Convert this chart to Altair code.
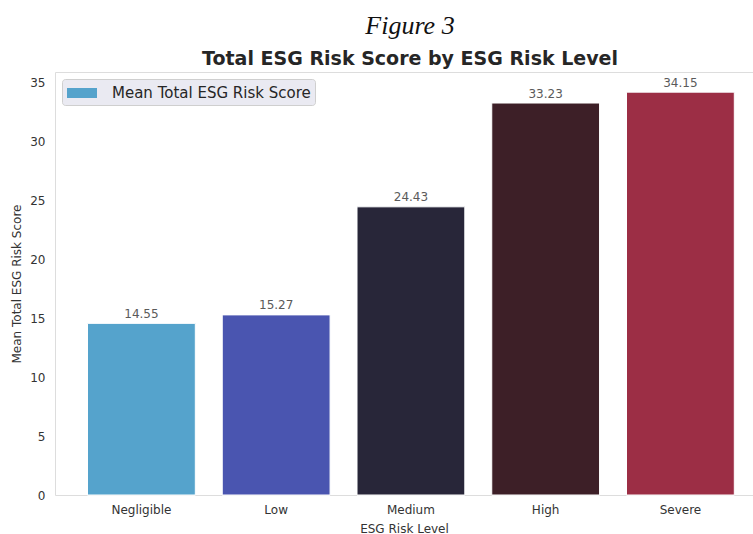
import altair as alt
import pandas as pd

# Mean total ESG risk score per risk level
levels = ["Negligible", "Low", "Medium", "High", "Severe"]
mean_scores = [14.55, 15.27, 24.43, 33.23, 34.15]
series_name = "Mean Total ESG Risk Score"
y_ticks = [0, 5, 10, 15, 20, 25, 30, 35]

palette = ["#55a3cc", "#4a55b0", "#282639", "#3d1f27", "#9c2e45"]

df = pd.DataFrame({"level": levels, "score": mean_scores})
df["series"] = series_name

FONT = "DejaVu Sans"

x_enc = alt.X(
    "level:N",
    sort=levels,
    scale=alt.Scale(paddingInner=0.2, paddingOuter=0.19, align=0.635),
    axis=alt.Axis(
        title="ESG Risk Level",
        labelAngle=0,
        labelFontSize=12,
        labelColor="#333333",
        labelPadding=9,
        titleFontSize=12,
        titleFontWeight="normal",
        titleColor="#333333",
        titlePadding=8,
        ticks=False,
        domain=False,
        grid=False,
    ),
)
y_enc = alt.Y(
    "score:Q",
    scale=alt.Scale(domain=[0, 35.86], nice=False),
    axis=alt.Axis(
        title="Mean Total ESG Risk Score",
        values=y_ticks,
        labelFontSize=12,
        labelColor="#333333",
        labelPadding=10,
        titleFontSize=12,
        titleFontWeight="normal",
        titleColor="#333333",
        titlePadding=6,
        ticks=False,
        domain=False,
        grid=False,
    ),
)

base = alt.Chart(df)

# Layer that only supplies the legend entry (hidden under the coloured bars)
legend_bars = base.mark_bar(stroke="white", strokeWidth=1).encode(
    x=x_enc,
    y=y_enc,
    fill=alt.Fill(
        "series:N",
        scale=alt.Scale(domain=[series_name], range=[palette[0]]),
        legend=alt.Legend(
            title=None,
            orient="top-left",
            offset=7,
            symbolType="M-1.5,-0.5H1.5V0.5H-1.5Z",
            symbolSize=400,
            symbolStrokeWidth=0,
            symbolOffset=6,
            labelFontSize=15,
            labelColor="#262626",
            labelFont=FONT,
            labelOffset=20,
            labelLimit=0,
            fillColor="#EAEAF2",
            strokeColor="#cfcfcf",
            cornerRadius=3,
            padding=4,
        ),
    ),
)

bars = base.mark_bar(stroke="white", strokeWidth=1).encode(
    x=x_enc,
    y=y_enc,
    color=alt.Color("level:N", scale=alt.Scale(domain=levels, range=palette), legend=None),
)

labels = base.mark_text(
    baseline="alphabetic", dy=-5.5, fontSize=12, color="#5a5a5a", font=FONT
).encode(
    x=x_enc,
    y=y_enc,
    text=alt.Text("score:Q", format=".2f"),
)

chart = (
    alt.layer(legend_bars, bars, labels)
    .properties(
        width=698,
        height=423,
        title=alt.TitleParams(
            text="Figure 3",
            subtitle="Total ESG Risk Score by ESG Risk Level",
            font="Liberation Serif",
            fontSize=26,
            fontStyle="italic",
            fontWeight="normal",
            color="#111111",
            subtitleFont=FONT,
            subtitleFontSize=19,
            subtitleFontWeight="bold",
            subtitleColor="#262626",
            subtitlePadding=11,
            anchor="middle",
            dx=6,
            offset=3,
        ),
        padding={"left": 55, "top": 72, "right": 0, "bottom": 39},
        autosize=alt.AutoSizeParams(type="none"),
        background="white",
    )
    .configure_view(fill="#EAEAF2", stroke=None)
    .configure(font=FONT)
)

chart.save("out.html", embed_options={"renderer": "svg", "actions": False})
